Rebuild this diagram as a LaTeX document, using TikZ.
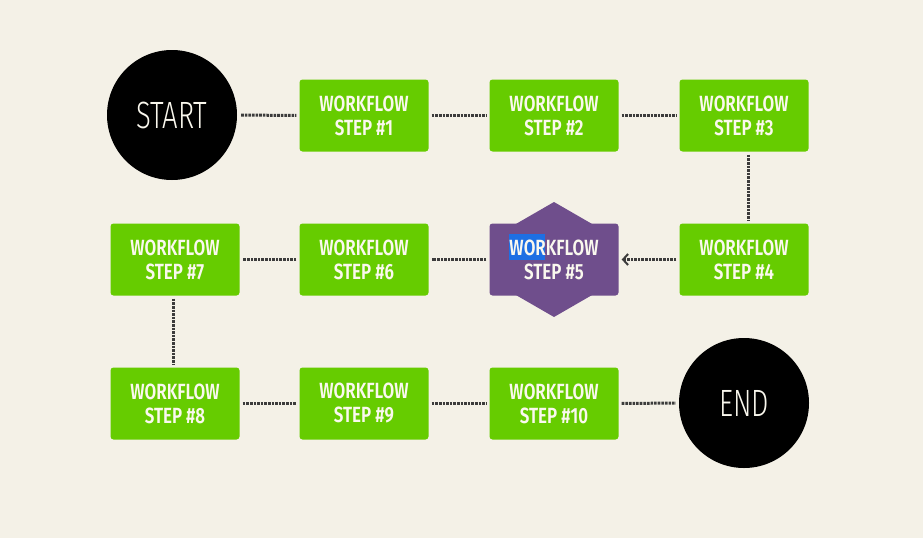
\documentclass[tikz,border=0pt]{standalone}
\usepackage{fontspec}
\setmainfont{Fira Sans}
\newfontfamily\boxfont[FakeStretch=0.77]{Fira Sans SemiBold}
\newfontfamily\circfont[FakeStretch=0.72]{Fira Sans Light}
\usetikzlibrary{arrows.meta}
\definecolor{bgc}{HTML}{F4F1E7}
\definecolor{stepgreen}{HTML}{66CC00}
\definecolor{steppurple}{HTML}{6F4E8C}
\definecolor{conncol}{HTML}{3C3C3C}
\definecolor{txtcol}{HTML}{FAF8EE}
\definecolor{hlblue}{HTML}{1E6FE3}
\tikzset{
  stepbox/.style={rectangle, minimum width=129pt, minimum height=72pt, rounded corners=3pt, fill=stepgreen, inner sep=0pt, text=txtcol, align=center, font=\boxfont\fontsize{22}{24}\selectfont},
  steptext/.style={inner sep=0pt, text=txtcol, align=center, font=\boxfont\fontsize{22}{24}\selectfont},
  endcirc/.style={circle, minimum size=130pt, fill=black, inner sep=0pt, text=txtcol, font=\circfont\fontsize{38}{40}\selectfont},
  conn/.style={draw=conncol, line width=3pt, dash pattern=on 2.6pt off 1pt, shorten <=3pt, shorten >=3pt},
  hl/.style={fill=hlblue}
}
\begin{document}
\begin{tikzpicture}[x=1pt,y=-1pt]
\fill[bgc] (0,0) rectangle (923,538);
\useasboundingbox (0,0) rectangle (923,538);
% nodes
\node[endcirc] (start) at (172,115) {START};
\node[stepbox] (s1) at (364,115.5) {WORKFLOW\\STEP \#1};
\node[stepbox] (s2) at (554,115.5) {WORKFLOW\\STEP \#2};
\node[stepbox] (s3) at (744,115.5) {WORKFLOW\\STEP \#3};
\node[stepbox] (s4) at (744,259.5) {WORKFLOW\\STEP \#4};
\fill[steppurple] (554,259.5) +(90:57.5) -- +(150:57.5) -- +(210:57.5) -- +(270:57.5) -- +(330:57.5) -- +(30:57.5) -- cycle;
\node[stepbox, fill=steppurple] (s5) at (554,259.5) {};
\fill[hl] (509,234) rectangle (545,260);
\node[steptext] (s5t) at (s5) {WORKFLOW\\STEP \#5};
\node[stepbox] (s6) at (364,259.5) {WORKFLOW\\STEP \#6};
\node[stepbox] (s7) at (175,259.5) {WORKFLOW\\STEP \#7};
\node[stepbox] (s8) at (175,403.5) {WORKFLOW\\STEP \#8};
\node[stepbox] (s9) at (364,403.5) {WORKFLOW\\STEP \#9};
\node[stepbox] (s10) at (554,403.5) {WORKFLOW\\STEP \#10};
\node[endcirc] (end) at (744,403) {END};
% connectors
\draw[conn, shorten <=4pt] (start) -- (s1);
\draw[conn] (s1) -- (s2);
\draw[conn] (s2) -- (s3);
\draw[conn] ([xshift=4pt]s3.south) -- ([xshift=4pt]s4.north);
\draw[conn, -{Straight Barb[length=5pt,width=11pt,line width=2pt]}] (s4.west) -- (s5.east);
\draw[conn] (s5) -- (s6);
\draw[conn] (s6) -- (s7);
\draw[conn] ([xshift=-2pt]s7.south) -- ([xshift=-2pt]s8.north);
\draw[conn] (s8) -- (s9);
\draw[conn] (s9) -- (s10);
\draw[conn] (s10) -- (end);
\end{tikzpicture}
\end{document}
